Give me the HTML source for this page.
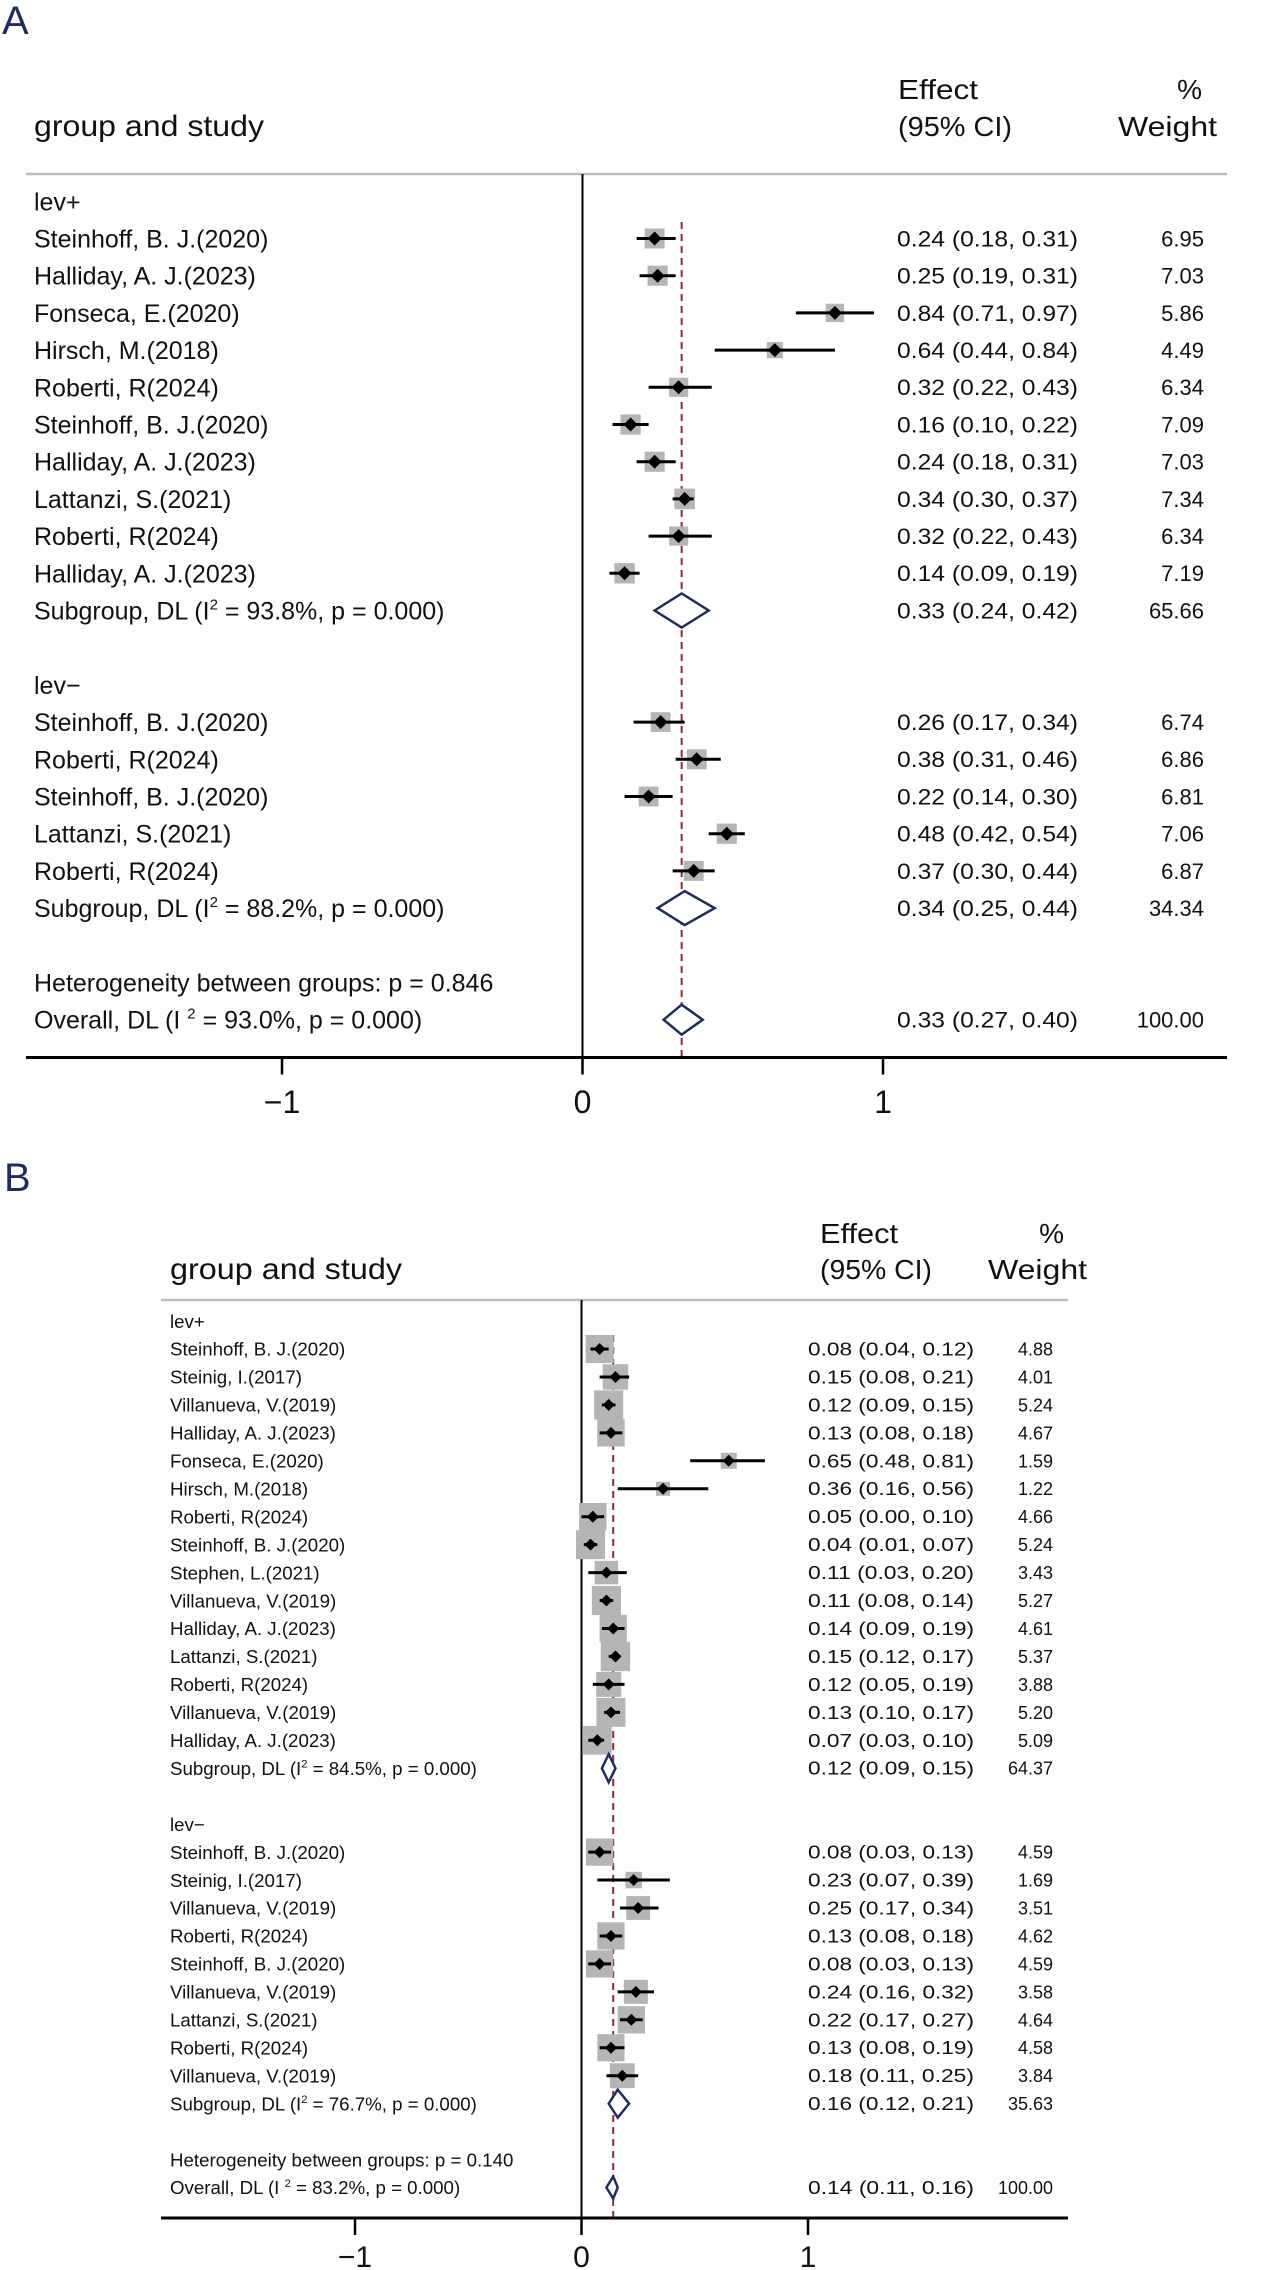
<!DOCTYPE html>
<html><head><meta charset="utf-8">
<style>
html,body{margin:0;padding:0;background:#fff;}
svg{display:block;font-family:"Liberation Sans",sans-serif;}
</style></head>
<body>
<svg id="fig" xmlns="http://www.w3.org/2000/svg" width="1274" height="2270" viewBox="0 0 1274 2270">
<rect width="1274" height="2270" fill="#fff"/>
<text x="2" y="34" font-size="40" fill="#1f2d5c">A</text>
<text x="4" y="1191" font-size="40" fill="#1f2d5c">B</text>
</svg>
<script>
// ---------- Panel A data ----------
const aPosNames = ["Steinhoff, B. J.(2020)","Halliday, A. J.(2023)","Fonseca, E.(2020)","Hirsch, M.(2018)","Roberti, R(2024)","Steinhoff, B. J.(2020)","Halliday, A. J.(2023)","Lattanzi, S.(2021)","Roberti, R(2024)","Halliday, A. J.(2023)"];
const aPosEff = [0.24,0.25,0.84,0.64,0.32,0.16,0.24,0.34,0.32,0.14];
const aPosLo  = [0.18,0.19,0.71,0.44,0.22,0.10,0.18,0.30,0.22,0.09];
const aPosHi  = [0.31,0.31,0.97,0.84,0.43,0.22,0.31,0.37,0.43,0.19];
const aPosWt  = [6.95,7.03,5.86,4.49,6.34,7.09,7.03,7.34,6.34,7.19];
const aPosSub = [0.33,0.24,0.42,65.66,"93.8%"];
const aNegNames = ["Steinhoff, B. J.(2020)","Roberti, R(2024)","Steinhoff, B. J.(2020)","Lattanzi, S.(2021)","Roberti, R(2024)"];
const aNegEff = [0.26,0.38,0.22,0.48,0.37];
const aNegLo  = [0.17,0.31,0.14,0.42,0.30];
const aNegHi  = [0.34,0.46,0.30,0.54,0.44];
const aNegWt  = [6.74,6.86,6.81,7.06,6.87];
const aNegSub = [0.34,0.25,0.44,34.34,"88.2%"];
const aOverall = [0.33,0.27,0.40,100.00,"93.0%"];
const aHetP = "0.846";
const aTicks = [-1,0,1];
const aTickLabels = ["\u22121","0","1"];

// ---------- Panel B data ----------
const bPosNames = ["Steinhoff, B. J.(2020)","Steinig, I.(2017)","Villanueva, V.(2019)","Halliday, A. J.(2023)","Fonseca, E.(2020)","Hirsch, M.(2018)","Roberti, R(2024)","Steinhoff, B. J.(2020)","Stephen, L.(2021)","Villanueva, V.(2019)","Halliday, A. J.(2023)","Lattanzi, S.(2021)","Roberti, R(2024)","Villanueva, V.(2019)","Halliday, A. J.(2023)"];
const bPosEff = [0.08,0.15,0.12,0.13,0.65,0.36,0.05,0.04,0.11,0.11,0.14,0.15,0.12,0.13,0.07];
const bPosLo  = [0.04,0.08,0.09,0.08,0.48,0.16,0.00,0.01,0.03,0.08,0.09,0.12,0.05,0.10,0.03];
const bPosHi  = [0.12,0.21,0.15,0.18,0.81,0.56,0.10,0.07,0.20,0.14,0.19,0.17,0.19,0.17,0.10];
const bPosWt  = [4.88,4.01,5.24,4.67,1.59,1.22,4.66,5.24,3.43,5.27,4.61,5.37,3.88,5.20,5.09];
const bPosSub = [0.12,0.09,0.15,64.37,"84.5%"];
const bNegNames = ["Steinhoff, B. J.(2020)","Steinig, I.(2017)","Villanueva, V.(2019)","Roberti, R(2024)","Steinhoff, B. J.(2020)","Villanueva, V.(2019)","Lattanzi, S.(2021)","Roberti, R(2024)","Villanueva, V.(2019)"];
const bNegEff = [0.08,0.23,0.25,0.13,0.08,0.24,0.22,0.13,0.18];
const bNegLo  = [0.03,0.07,0.17,0.08,0.03,0.16,0.17,0.08,0.11];
const bNegHi  = [0.13,0.39,0.34,0.18,0.13,0.32,0.27,0.19,0.25];
const bNegWt  = [4.59,1.69,3.51,4.62,4.59,3.58,4.64,4.58,3.84];
const bNegSub = [0.16,0.12,0.21,35.63,"76.7%"];
const bOverall = [0.14,0.11,0.16,100.00,"83.2%"];
const bHetP = "0.140";
const bTicks = [-1,0,1];
const bTickLabels = ["\u22121","0","1"];

const NS = "http://www.w3.org/2000/svg";
const svg = document.getElementById("fig");
function mk(tag, attrs, parent){
  const e = document.createElementNS(NS, tag);
  for (const k in attrs) e.setAttribute(k, attrs[k]);
  (parent||svg).appendChild(e);
  return e;
}
function fmt(e,l,h){return e.toFixed(2)+" ("+l.toFixed(2)+", "+h.toFixed(2)+")";}

function drawPanel(P, groups, overall, hetP, ticks, tickLabels, pid){
  const g = mk("g", {});
  
  
  const X = v => P.zeroX + v*P.scale;
  const Y = i => P.row0 + i*P.rowH;
  let t;
  t = mk("text",{x:P.nameX,y:P.hdrY2,"font-size":P.hdrFont+2,textLength:P.grpLen,lengthAdjust:"spacingAndGlyphs",fill:"#111"},g); t.textContent="group and study";
  
  
  t = mk("text",{x:P.effHX,y:P.hdrY1,"font-size":P.hdrFont,textLength:P.effLen,lengthAdjust:"spacingAndGlyphs",fill:"#111"},g); t.textContent="Effect";
  
  
  t = mk("text",{x:P.effHX,y:P.hdrY2,"font-size":P.hdrFont,textLength:P.ciLen,lengthAdjust:"spacingAndGlyphs",fill:"#111"},g); t.textContent="(95% CI)";
  t = mk("text",{x:P.pctX,y:P.hdrY1,"font-size":P.hdrFont,"text-anchor":"end",fill:"#111"},g); t.textContent="%";
  
  
  t = mk("text",{x:P.wHX,y:P.hdrY2,"font-size":P.hdrFont,"text-anchor":"end",textLength:P.wLen,lengthAdjust:"spacingAndGlyphs",fill:"#111"},g); t.textContent="Weight";
  const hl = mk("line",{x1:P.lx1,x2:P.lx2,y1:P.hdrLineY,y2:P.hdrLineY,stroke:"#bdbdbd","stroke-width":2.5},g);
  
  
  const zl = mk("line",{x1:X(0),x2:X(0),y1:P.hdrLineY,y2:P.axisY,stroke:"#000","stroke-width":2},g);
  
  
  const dl = mk("line",{x1:X(overall[0]),x2:X(overall[0]),y1:P.dashTop,y2:P.axisY,stroke:"#8b2b3b","stroke-width":2,"stroke-dasharray":"7,5"},g);
  
  

  const txtY = i => Y(i) + P.nameFont*0.36;
  function label(i, s, name){
    const e = mk("text",{x:P.nameX,y:txtY(i),"font-size":P.nameFont,fill:"#111"},g);
    e.textContent = s;
    
    
    return e;
  }
  function valueCols(i, e, l, h, w, key){
    const v = mk("text",{x:P.valX,y:Y(i)+P.valFont*0.36,"font-size":P.valFont,textLength:P.valLen,lengthAdjust:"spacingAndGlyphs",fill:"#111"},g);
    v.textContent = fmt(e,l,h);
    
    
    const ww = mk("text",{x:P.wRight,y:Y(i)+P.valFont*0.36,"font-size":P.valFont,"text-anchor":"end",fill:"#111"},g);
    ww.textContent = w.toFixed(2);
    
    
  }
  function statLabel(i, prefix, i2, name){
    const e = mk("text",{x:P.nameX,y:txtY(i),"font-size":P.nameFont,fill:"#111"},g);
    
    
    const a = mk("tspan",{},e); a.textContent = prefix;
    const s = mk("tspan",{"font-size":P.nameFont*0.6,dy:-P.nameFont*0.4},e); s.textContent = "2";
    const b = mk("tspan",{dy:P.nameFont*0.4},e); b.textContent = " = "+i2+", p = 0.000)";
  }
  function diamond(i, e, l, h, hh, name){
    const y = Y(i);
    const p = mk("polygon",{points:X(l)+","+y+" "+X(e)+","+(y-hh)+" "+X(h)+","+y+" "+X(e)+","+(y+hh),fill:"#fff",stroke:"#1f2d5c","stroke-width":2.5},g);
    
    
  }
  let row = -1;
  groups.forEach((G, gi) => {
    label(row, G.label, pid+'-group-label-'+gi);
    for (let k=0;k<G.names.length;k++){
      row++;
      const key = pid+'-g'+gi+'-study-'+k;
      label(row, G.names[k], key+'-name');
      const y = Y(row);
      const side = P.boxK*Math.sqrt(G.wt[k]);
      const bx = mk("rect",{x:X(G.eff[k])-side/2,y:y-side/2,width:side,height:side,fill:"#b5b5b5"},g);
      
      
      const ci = mk("line",{x1:X(G.lo[k]),x2:X(G.hi[k]),y1:y,y2:y,stroke:"#000","stroke-width":P.ciW},g);
      
      
      const r = P.mr, cx = X(G.eff[k]);
      const pt = mk("polygon",{points:(cx-r)+","+y+" "+cx+","+(y-r)+" "+(cx+r)+","+y+" "+cx+","+(y+r),fill:"#000"},g);
      
      
      valueCols(row, G.eff[k], G.lo[k], G.hi[k], G.wt[k], key);
    }
    row++;
    const S = G.sub;
    statLabel(row, "Subgroup, DL (I", S[4], pid+'-subgroup-'+gi+'-label');
    diamond(row, S[0], S[1], S[2], P.subHH, pid+'-subgroup-'+gi+'-diamond');
    valueCols(row, S[0], S[1], S[2], S[3], pid+'-subgroup-'+gi);
    row += 2;
  });
  label(row, "Heterogeneity between groups: p = "+hetP, pid+'-heterogeneity-label');
  row++;
  statLabel(row, "Overall, DL (I  ", overall[4], pid+'-overall-label');
  diamond(row, overall[0], overall[1], overall[2], P.ovHH, pid+'-overall-diamond');
  valueCols(row, overall[0], overall[1], overall[2], overall[3], pid+'-overall');
  const ax = mk("line",{x1:P.lx1,x2:P.lx2,y1:P.axisY,y2:P.axisY,stroke:"#000","stroke-width":3},g);
  
  
  ticks.forEach((tv, ti) => {
    const tk = mk("line",{x1:X(tv),x2:X(tv),y1:P.axisY,y2:P.axisY+17,stroke:"#000","stroke-width":2.5},g);
    
    
    const tl = mk("text",{x:X(tv),y:P.tickY,"font-size":P.tickFont,"text-anchor":"middle",fill:"#111"},g);
    tl.textContent = tickLabels[ti];
    
    
  });
}

drawPanel({zeroX:582.5,scale:300.5,row0:238.5,rowH:37.2,nameX:34,nameFont:25,valX:897,valLen:181,valFont:22,
  wRight:1204,boxK:7.6,mr:7,ciW:3,subHH:17,ovHH:15,axisY:1057.5,lx1:26,lx2:1227,hdrLineY:174,dashTop:222,
  tickY:1113,tickFont:32,hdrY1:99,hdrY2:136,hdrFont:28,grpLen:230,effHX:898,effLen:80,ciLen:114,pctX:1202,wHX:1217,wLen:99},
  [{label:"lev+",names:aPosNames,eff:aPosEff,lo:aPosLo,hi:aPosHi,wt:aPosWt,sub:aPosSub},
   {label:"lev\u2212",names:aNegNames,eff:aNegEff,lo:aNegLo,hi:aNegHi,wt:aNegWt,sub:aNegSub}],
  aOverall, aHetP, aTicks, aTickLabels, "panel-a");

drawPanel({zeroX:581.5,scale:226.5,row0:1349,rowH:27.95,nameX:170,nameFont:18.7,valX:808,valLen:166,valFont:18,
  wRight:1053,boxK:12.7,mr:6,ciW:3,subHH:14,ovHH:11,axisY:2218,lx1:161,lx2:1068,hdrLineY:1300,dashTop:1335,
  tickY:2267,tickFont:30,hdrY1:1243,hdrY2:1279,hdrFont:28,grpLen:232,effHX:820,effLen:78,ciLen:112,pctX:1064,wHX:1087,wLen:99},
  [{label:"lev+",names:bPosNames,eff:bPosEff,lo:bPosLo,hi:bPosHi,wt:bPosWt,sub:bPosSub},
   {label:"lev\u2212",names:bNegNames,eff:bNegEff,lo:bNegLo,hi:bNegHi,wt:bNegWt,sub:bNegSub}],
  bOverall, bHetP, bTicks, bTickLabels, "panel-b");
</script>
</body></html>
